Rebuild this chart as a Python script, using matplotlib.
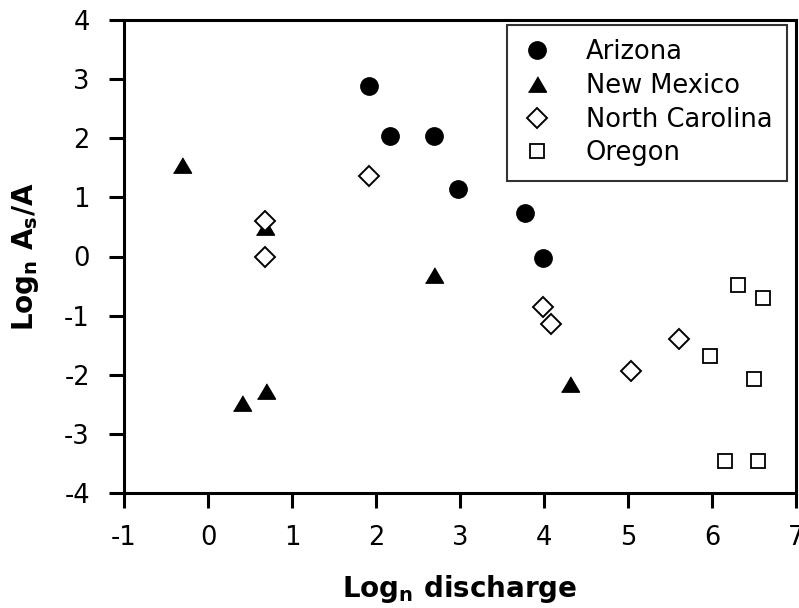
import matplotlib
matplotlib.use("Agg")
import matplotlib.pyplot as plt

plt.rcParams['font.family'] = ['DejaVu Sans']
plt.rcParams['mathtext.fontset'] = 'dejavusans'

az_x = [1.92, 2.17, 2.69, 2.98, 3.77, 3.99]
az_y = [2.88, 2.03, 2.03, 1.14, 0.73, -0.03]

nm_x = [-0.31, 0.68, 2.69, 0.41, 0.69, 4.31]
nm_y = [1.55, 0.50, -0.31, -2.48, -2.28, -2.15]

nc_x = [1.92, 0.68, 0.68, 3.99, 4.08, 5.04, 5.61]
nc_y = [1.36, 0.60, -0.01, -0.85, -1.15, -1.94, -1.40]

or_x = [6.31, 6.61, 5.98, 6.50, 6.15, 6.55]
or_y = [-0.48, -0.71, -1.68, -2.08, -3.46, -3.46]

xticks = [-1, 0, 1, 2, 3, 4, 5, 6, 7]
yticks = [-4, -3, -2, -1, 0, 1, 2, 3, 4]

fig = plt.figure(figsize=(7.99, 6.08), dpi=100)
ax = fig.add_axes([124/799, 1-493/608, 672/799, 473/608])

tri = [(-1, -0.85), (1, -0.85), (0, 0.85)]
ax.plot(az_x, az_y, 'o', ms=12.5, color='black', ls='none', label='Arizona')
ax.plot(nm_x, nm_y, marker=tri, ms=13, color='black', ls='none', label='New Mexico')
ax.plot(nc_x, nc_y, 'D', ms=10, mfc='white', mec='black', mew=1.4, ls='none', label='North Carolina')
ax.plot(or_x, or_y, 's', ms=9.5, mfc='white', mec='black', mew=1.3, ls='none', label='Oregon')

ax.set_xlim(-1, 7)
ax.set_ylim(-4, 4)
ax.set_xticks(xticks)
ax.set_yticks(yticks)
ax.set_xticklabels([str(v) for v in xticks])
ax.set_yticklabels([str(v) for v in yticks])
for s in ax.spines.values():
    s.set_linewidth(2.2)
ax.tick_params(direction='out', length=10.5, width=2.2, labelsize=18.5)
ax.tick_params(axis='x', pad=12.5)
ax.tick_params(axis='y', pad=14)

ax.set_xlabel(r'Log$_\mathbf{n}$ discharge', fontsize=20, fontweight='bold', labelpad=16)
ax.set_ylabel(r'Log$_\mathbf{n}$ A$_\mathbf{s}$/A', fontsize=20, fontweight='bold', labelpad=17)

leg = ax.legend(loc='upper right', bbox_to_anchor=(0.986, 0.989), borderaxespad=0,
                fontsize=18.5, frameon=True, fancybox=False, edgecolor='black',
                handletextpad=1.3, labelspacing=0.3, borderpad=0.55, handlelength=1.2)
leg.get_frame().set_linewidth(1.5)

fig.savefig('out.png', dpi=100)
